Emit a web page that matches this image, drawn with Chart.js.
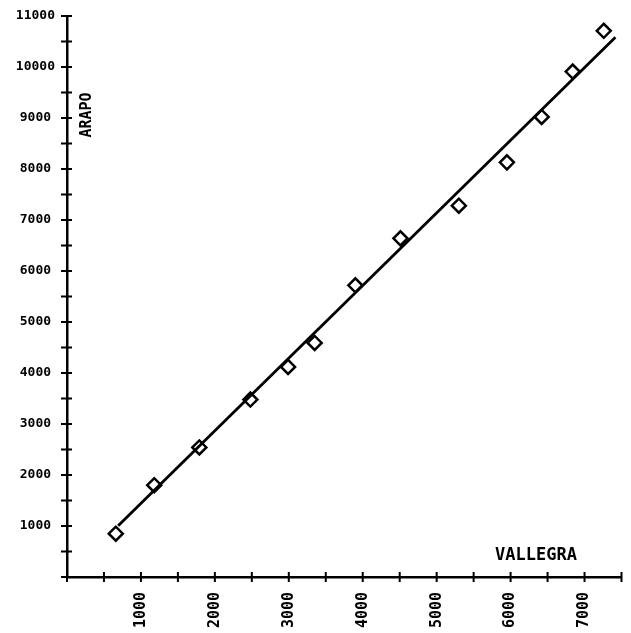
<!DOCTYPE html>
<html lang="en">
<head>
    <meta charset="UTF-8">
    <title>Arapo vs Vallegra</title>
    <style>
        body {
            margin: 0;
            background-color: #ffffff;
        }
        #plot {
            display: block;
        }
    </style>
</head>
<body>

<canvas id="plot" width="631" height="633"></canvas>

<script src="https://cdn.jsdelivr.net/npm/chart.js"></script>
<script>
    // Measured samples
    const vallegra = [660, 1180, 1790, 2480, 2990, 3350, 3900, 4510, 5300, 5950, 6420, 6840, 7260];
    const arapo = [850, 1800, 2540, 3480, 4120, 4590, 5720, 6640, 7280, 8130, 9020, 9910, 10710];

    // Fitted line end points
    const fitX = [692, 7418];
    const fitY = [1006, 10582];

    // Axis ranges and label steps
    const xMax = 7500;
    const yMax = 11000;
    const tickStep = 500;
    const labelStep = 1000;

    const plotFont = 'DejaVu Sans Mono';

    const points = vallegra.map((v, i) => ({ x: v, y: arapo[i] }));
    const fitLine = fitX.map((v, i) => ({ x: v, y: fitY[i] }));

    function tickLabel(value) {
        return value > 0 && value % labelStep === 0 ? String(value) : '';
    }

    // Tick marks that cross the axis line, plus the axis titles
    const axisDecor = {
        id: 'axisDecor',
        afterDraw(chart) {
            const ctx = chart.ctx;
            const xs = chart.scales.x;
            const ys = chart.scales.y;
            const area = chart.chartArea;
            ctx.save();
            ctx.strokeStyle = '#000';
            ctx.lineWidth = 2;
            ctx.beginPath();
            xs.ticks.forEach((t, i) => {
                const px = xs.getPixelForTick(i);
                ctx.moveTo(px, area.bottom - 5);
                ctx.lineTo(px, area.bottom + 5);
            });
            ys.ticks.forEach((t, i) => {
                const py = ys.getPixelForTick(i);
                ctx.moveTo(area.left - 6, py);
                ctx.lineTo(area.left + 5, py);
            });
            ctx.stroke();

            ctx.fillStyle = '#000';
            ctx.font = 'bold 17px "' + plotFont + '"';
            ctx.textAlign = 'left';
            ctx.textBaseline = 'middle';
            ctx.fillText('VALLEGRA', 495, 556);

            ctx.translate(87, 115);
            ctx.rotate(-Math.PI / 2);
            ctx.font = 'bold 15px "' + plotFont + '"';
            ctx.textAlign = 'center';
            ctx.fillText('ARAPO', 0, 0);
            ctx.restore();
        }
    };

    const ctx = document.getElementById('plot').getContext('2d');
    const plot = new Chart(ctx, {
        type: 'scatter',
        data: {
            datasets: [
                {
                    data: fitLine,
                    showLine: true,
                    borderColor: '#000',
                    borderWidth: 2.8,
                    pointRadius: 0
                },
                {
                    data: points,
                    pointStyle: 'rectRot',
                    pointRadius: 7,
                    borderWidth: 2.5,
                    borderColor: '#000',
                    backgroundColor: '#fff'
                },
                {
                    data: points,
                    pointStyle: 'circle',
                    pointRadius: 1.5,
                    borderWidth: 0,
                    backgroundColor: '#000'
                }
            ]
        },
        options: {
            responsive: false,
            animation: false,
            layout: {
                padding: { top: 16, right: 8, left: 0, bottom: 0 }
            },
            plugins: {
                legend: { display: false },
                tooltip: { enabled: false }
            },
            scales: {
                x: {
                    type: 'linear',
                    min: 0,
                    max: xMax,
                    afterFit(scale) {
                        scale.height = 56;
                        scale.paddingLeft = 0;
                        scale.paddingRight = 0;
                    },
                    grid: { drawOnChartArea: false, drawTicks: false },
                    border: { color: '#000', width: 2.5 },
                    ticks: {
                        stepSize: tickStep,
                        autoSkip: false,
                        minRotation: 90,
                        maxRotation: 90,
                        padding: 15,
                        color: '#000',
                        font: { family: plotFont, size: 15, weight: 'bold' },
                        callback: tickLabel
                    }
                },
                y: {
                    type: 'linear',
                    min: 0,
                    max: yMax,
                    afterFit(scale) {
                        scale.width = 67;
                        scale.paddingTop = 0;
                        scale.paddingBottom = 0;
                    },
                    grid: { drawOnChartArea: false, drawTicks: false },
                    border: { color: '#000', width: 2.5 },
                    ticks: {
                        stepSize: tickStep,
                        autoSkip: false,
                        crossAlign: 'center',
                        padding: 12,
                        color: '#000',
                        font: { family: plotFont, size: 13, weight: 'bold' },
                        callback: tickLabel
                    }
                }
            }
        },
        plugins: [axisDecor]
    });
</script>
</body>
</html>
